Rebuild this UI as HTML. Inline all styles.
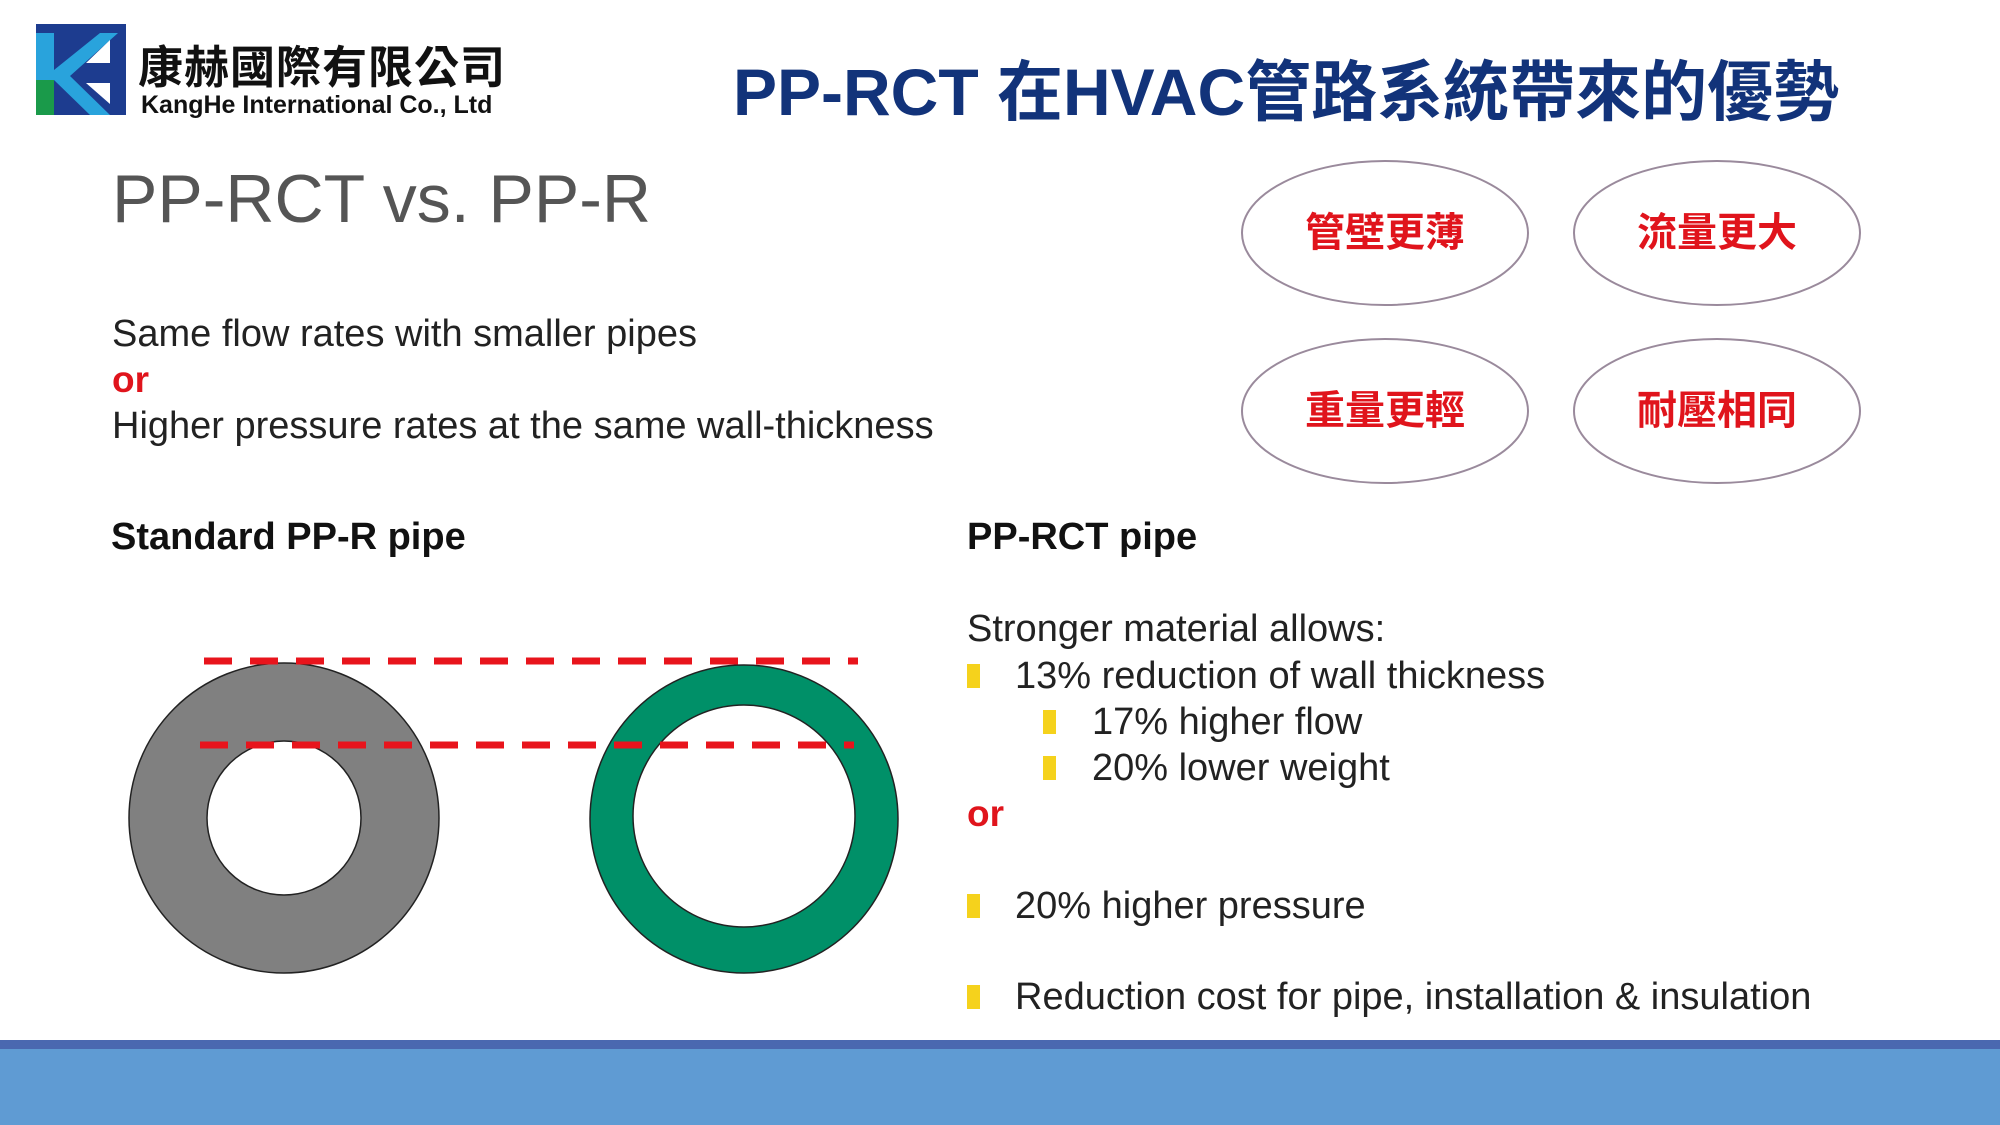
<!DOCTYPE html>
<html><head><meta charset="utf-8"><style>
body{margin:0;width:2000px;height:1125px;position:relative;overflow:hidden;background:#fff;font-family:"Liberation Sans","Noto Sans CJK TC",sans-serif;}
.t{position:absolute;white-space:nowrap;line-height:40px;}
.b{position:absolute;width:13px;height:24px;background:#f5d21c;}
</style></head><body>
<svg width="2000" height="1125" style="position:absolute;left:0;top:0">
  <rect x="36" y="24" width="90" height="91" fill="#1d3c8f"/>
  <rect x="36" y="33" width="18" height="82" fill="#29a3dc"/>
  <rect x="36" y="80" width="18" height="35" fill="#1a9a4a"/>
  <polygon points="54,70 100,33 118,33 70,76 110,115 90,115 54,80" fill="#29a3dc"/>
  <polygon points="86,63 110,40 110,63" fill="#fff"/>
  <polygon points="86,83 110,83 110,104" fill="#fff"/>
  <circle cx="284" cy="818" r="155" fill="#808080" stroke="#222" stroke-width="1.5"/>
  <circle cx="284" cy="818" r="77" fill="#fff" stroke="#222" stroke-width="1.5"/>
  <circle cx="744" cy="819" r="154" fill="#009068" stroke="#222" stroke-width="1.5"/>
  <circle cx="744" cy="816" r="111" fill="#fff" stroke="#222" stroke-width="1.5"/>
  <line x1="204" y1="661" x2="858" y2="661" stroke="#e8141c" stroke-width="7" stroke-dasharray="28,18"/>
  <line x1="200" y1="745" x2="854" y2="745" stroke="#e8141c" stroke-width="7" stroke-dasharray="28,18"/>
  <ellipse cx="1385" cy="233" rx="143" ry="72" fill="#fff" stroke="#9a8a9c" stroke-width="2"/>
  <ellipse cx="1717" cy="233" rx="143" ry="72" fill="#fff" stroke="#9a8a9c" stroke-width="2"/>
  <ellipse cx="1385" cy="411" rx="143" ry="72" fill="#fff" stroke="#9a8a9c" stroke-width="2"/>
  <ellipse cx="1717" cy="411" rx="143" ry="72" fill="#fff" stroke="#9a8a9c" stroke-width="2"/>
  <rect x="0" y="1040" width="2000" height="9" fill="#4a68b0"/>
  <rect x="0" y="1049" width="2000" height="76" fill="#5f9bd3"/>
</svg>
<div class="t" style="left:138px;top:44px;font-size:45px;line-height:48px;font-weight:bold;color:#111;letter-spacing:1px">康赫國際有限公司</div>
<div class="t" style="left:141px;top:92px;font-size:25px;line-height:26px;font-weight:bold;color:#111">KangHe International Co., Ltd</div>
<div class="t" style="left:733px;top:54px;font-size:66px;line-height:76px;font-weight:bold;color:#12337a">PP-RCT 在HVAC管路系統帶來的優勢</div>
<div class="t" style="left:112px;top:159px;font-size:68px;line-height:80px;color:#555">PP-RCT vs. PP-R</div>
<div class="t" style="left:112px;top:314px;font-size:38px;color:#222">Same flow rates with smaller pipes</div>
<div class="t" style="left:112px;top:360px;font-size:37px;color:#e0141c;font-weight:bold">or</div>
<div class="t" style="left:112px;top:406px;font-size:38px;color:#222">Higher pressure rates at the same wall-thickness</div>
<div class="t" style="left:1385px;top:213px;font-size:40px;color:#e0141c;font-weight:bold;transform:translateX(-50%)">管壁更薄</div>
<div class="t" style="left:1717px;top:213px;font-size:40px;color:#e0141c;font-weight:bold;transform:translateX(-50%)">流量更大</div>
<div class="t" style="left:1385px;top:391px;font-size:40px;color:#e0141c;font-weight:bold;transform:translateX(-50%)">重量更輕</div>
<div class="t" style="left:1717px;top:391px;font-size:40px;color:#e0141c;font-weight:bold;transform:translateX(-50%)">耐壓相同</div>
<div class="t" style="left:111px;top:517px;font-size:38px;font-weight:bold;color:#111">Standard PP-R pipe</div>
<div class="t" style="left:967px;top:517px;font-size:38px;font-weight:bold;color:#111">PP-RCT pipe</div>
<div class="t" style="left:967px;top:609px;font-size:38px;color:#222">Stronger material allows:</div>
<div class="b" style="left:967px;top:664px"></div>
<div class="t" style="left:1015px;top:656px;font-size:38px;color:#222">13% reduction of wall thickness</div>
<div class="b" style="left:1043px;top:710px"></div>
<div class="t" style="left:1092px;top:702px;font-size:38px;color:#222">17% higher flow</div>
<div class="b" style="left:1043px;top:756px"></div>
<div class="t" style="left:1092px;top:748px;font-size:38px;color:#222">20% lower weight</div>
<div class="t" style="left:967px;top:794px;font-size:37px;color:#e0141c;font-weight:bold">or</div>
<div class="b" style="left:967px;top:894px"></div>
<div class="t" style="left:1015px;top:886px;font-size:38px;color:#222">20% higher pressure</div>
<div class="b" style="left:967px;top:985px"></div>
<div class="t" style="left:1015px;top:977px;font-size:38px;color:#222">Reduction cost for pipe, installation &amp; insulation</div>
</body></html>
